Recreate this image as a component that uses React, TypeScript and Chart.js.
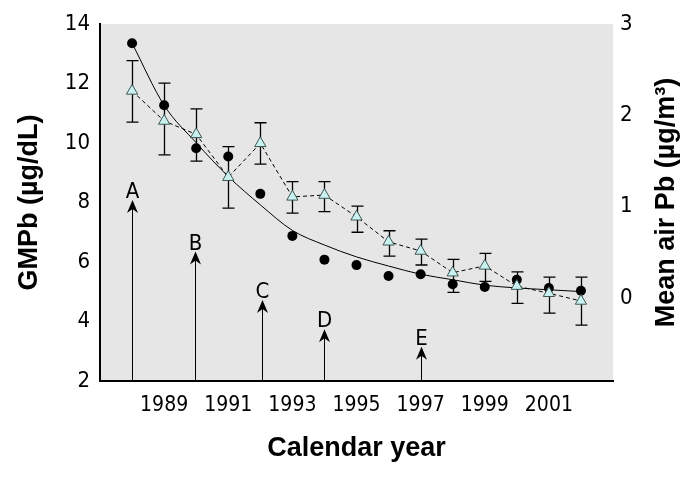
import React, { useEffect, useRef } from 'react';
import { Chart, registerables } from 'chart.js';

Chart.register(...registerables);

// ---- data ----
const years = [1988, 1989, 1990, 1991, 1992, 1993, 1994, 1995, 1996, 1997, 1998, 1999, 2000, 2001, 2002];
// Mean air Pb (µg/m³), right axis – filled circles
const airPb = [2.79, 2.11, 1.64, 1.55, 1.14, 0.68, 0.42, 0.36, 0.24, 0.26, 0.15, 0.12, 0.2, 0.11, 0.08];
// fitted curve through the air Pb points
const airPbFit = [2.79, 2.11, 1.7, 1.33, 1.02, 0.74, 0.58, 0.45, 0.35, 0.26, 0.2, 0.14, 0.11, 0.09, 0.07];
// GMPb (µg/dL), left axis – triangles with error bars
const gmpb = [11.75, 10.74, 10.29, 8.85, 9.99, 8.19, 8.25, 7.52, 6.68, 6.37, 5.64, 5.87, 5.19, 4.95, 4.69];
const gmpbHigh = [12.77, 12.01, 11.15, 9.88, 10.68, 8.7, 8.7, 7.88, 7.05, 6.77, 6.09, 6.29, 5.67, 5.49, 5.49];
const gmpbLow = [10.7, 9.6, 9.39, 7.81, 9.29, 7.64, 7.69, 7.0, 6.2, 5.9, 4.98, 5.35, 4.61, 4.28, 3.88];
// event arrows
const arrowYears = [1988, 1989.95, 1992.05, 1994, 1997];
const arrowTips = [8.08, 6.35, 4.72, 3.74, 3.15];
const arrowLabels = ['A', 'B', 'C', 'D', 'E'];
// ticks
const xTickYears = [1989, 1991, 1993, 1995, 1997, 1999, 2001];
const leftTicks = [2, 4, 6, 8, 10, 12, 14];
const rightTicks = [0, 1, 2, 3];

const NARROW = "'Liberation Sans Narrow', 'Arial Narrow', 'DejaVu Sans Condensed', 'Liberation Sans', sans-serif";
const BOLD = "'Liberation Sans', Arial, sans-serif";

const bgPlugin = {
  id: 'plotBg',
  beforeDraw(chart: any) {
    const { ctx, chartArea: a } = chart;
    ctx.save();
    ctx.fillStyle = '#e6e6e6';
    ctx.fillRect(a.left, a.top, a.right - a.left, a.bottom - a.top);
    ctx.restore();
  },
};

const arrowsPlugin = {
  id: 'arrows',
  beforeDatasetsDraw(chart: any) {
    const { ctx } = chart;
    const xs = chart.scales.x;
    const ys = chart.scales.y;
    ctx.save();
    arrowYears.forEach((yr, i) => {
      const x = Math.round(xs.getPixelForValue(yr)) + 0.5;
      const tip = ys.getPixelForValue(arrowTips[i]);
      const base = ys.getPixelForValue(ys.min);
      ctx.strokeStyle = '#000';
      ctx.lineWidth = 1;
      ctx.beginPath();
      ctx.moveTo(x, base);
      ctx.lineTo(x, tip + 8);
      ctx.stroke();
      ctx.fillStyle = '#000';
      ctx.beginPath();
      ctx.moveTo(x, tip);
      ctx.lineTo(x - 5.5, tip + 13);
      ctx.lineTo(x, tip + 9);
      ctx.lineTo(x + 5.5, tip + 13);
      ctx.closePath();
      ctx.fill();
      ctx.font = `22px ${NARROW}`;
      ctx.textAlign = 'center';
      ctx.textBaseline = 'alphabetic';
      ctx.fillText(arrowLabels[i], x, tip - 2);
    });
    ctx.restore();
  },
};

const errorBarPlugin = {
  id: 'errorBars',
  beforeDatasetsDraw(chart: any) {
    const { ctx } = chart;
    const xs = chart.scales.x;
    const ys = chart.scales.y;
    ctx.save();
    ctx.strokeStyle = '#000';
    ctx.lineWidth = 1.3;
    years.forEach((yr, i) => {
      const x = Math.round(xs.getPixelForValue(yr)) + 0.5;
      const hi = ys.getPixelForValue(gmpbHigh[i]);
      const lo = ys.getPixelForValue(gmpbLow[i]);
      ctx.beginPath();
      ctx.moveTo(x, hi);
      ctx.lineTo(x, lo);
      ctx.moveTo(x - 6, hi);
      ctx.lineTo(x + 6, hi);
      ctx.moveTo(x - 6, lo);
      ctx.lineTo(x + 6, lo);
      ctx.stroke();
    });
    ctx.restore();
  },
};

const rightTitlePlugin = {
  id: 'rightTitle',
  afterDraw(chart: any) {
    const { ctx, chartArea: a } = chart;
    ctx.save();
    ctx.translate(a.right + 54, (a.top + a.bottom) / 2);
    ctx.rotate(-Math.PI / 2);
    ctx.font = `bold 27px ${BOLD}`;
    ctx.fillStyle = '#000';
    ctx.textAlign = 'center';
    ctx.textBaseline = 'middle';
    ctx.fillText('Mean air Pb (\u00b5g/m\u00b3)', 0, 0);
    ctx.restore();
  },
};

export default function App() {
  const ref = useRef<HTMLCanvasElement | null>(null);

  useEffect(() => {
    if (!ref.current) return;
    const chart = new Chart(ref.current, {
      type: 'line',
      data: {
        datasets: [
          {
            label: 'GMPb',
            data: years.map((x, i) => ({ x, y: gmpb[i] })),
            yAxisID: 'y',
            borderColor: '#000',
            borderWidth: 1,
            borderDash: [4, 3],
            pointStyle: 'triangle',
            pointRadius: 6.5,
            pointBackgroundColor: '#c9f1ef',
            pointBorderColor: '#3d5656',
            pointBorderWidth: 1,
            tension: 0,
            fill: false,
          },
          {
            label: 'Mean air Pb',
            data: years.map((x, i) => ({ x, y: airPb[i] })),
            yAxisID: 'y1',
            showLine: false,
            pointStyle: 'circle',
            pointRadius: 5,
            pointBackgroundColor: '#000',
            pointBorderColor: '#000',
            pointBorderWidth: 0,
          },
          {
            label: 'Fit',
            data: years.map((x, i) => ({ x, y: airPbFit[i] })),
            yAxisID: 'y1',
            borderColor: '#000',
            borderWidth: 1,
            pointRadius: 0,
            cubicInterpolationMode: 'monotone',
            fill: false,
          },
        ],
      },
      options: {
        responsive: false,
        animation: false,
        devicePixelRatio: 1,
        layout: { padding: { top: 24, left: 0, right: 0, bottom: 0 } },
        plugins: { legend: { display: false }, tooltip: { enabled: false } },
        scales: {
          x: {
            type: 'linear',
            position: 'bottom',
            min: 1987,
            max: 2003,
            grid: { display: false, drawTicks: false },
            border: { display: true, color: '#000', width: 2 },
            afterBuildTicks: (s: any) => {
              s.ticks = xTickYears.map((v) => ({ value: v }));
            },
            afterFit: (s: any) => {
              s.height = 98;
            },
            ticks: {
              color: '#000',
              padding: 12,
              font: { family: NARROW, size: 21 },
              callback: (v: any) => String(v),
            },
            title: {
              display: true,
              text: 'Calendar year',
              color: '#000',
              font: { family: BOLD, size: 27, weight: 'bold' },
              padding: { top: 0, bottom: 14 },
            },
          },
          y: {
            type: 'linear',
            position: 'left',
            min: 2,
            max: 14,
            grid: { display: false, drawTicks: false },
            border: { display: true, color: '#000', width: 2 },
            afterBuildTicks: (s: any) => {
              s.ticks = leftTicks.map((v) => ({ value: v }));
            },
            afterFit: (s: any) => {
              s.width = 100;
            },
            ticks: {
              color: '#000',
              padding: 10,
              font: { family: NARROW, size: 22 },
            },
            title: {
              display: true,
              text: 'GMPb (\u00b5g/dL)',
              color: '#000',
              font: { family: BOLD, size: 27, weight: 'bold' },
              padding: { top: 13, bottom: 0 },
            },
          },
          y1: {
            type: 'linear',
            position: 'right',
            min: -0.909,
            max: 3,
            grid: { display: false, drawTicks: false },
            border: { display: false },
            afterBuildTicks: (s: any) => {
              s.ticks = rightTicks.map((v) => ({ value: v }));
            },
            afterFit: (s: any) => {
              s.width = 80;
            },
            ticks: {
              color: '#000',
              padding: 7,
              font: { family: NARROW, size: 22 },
            },
          },
        },
      },
      plugins: [bgPlugin, arrowsPlugin, errorBarPlugin, rightTitlePlugin],
    } as any);
    return () => chart.destroy();
  }, []);

  return (
    <div style={{ position: 'fixed', left: 0, top: 0, width: 693, height: 479, background: '#fff' }}>
      <canvas ref={ref} width={693} height={479} style={{ display: 'block', width: 693, height: 479 }} />
    </div>
  );
}
